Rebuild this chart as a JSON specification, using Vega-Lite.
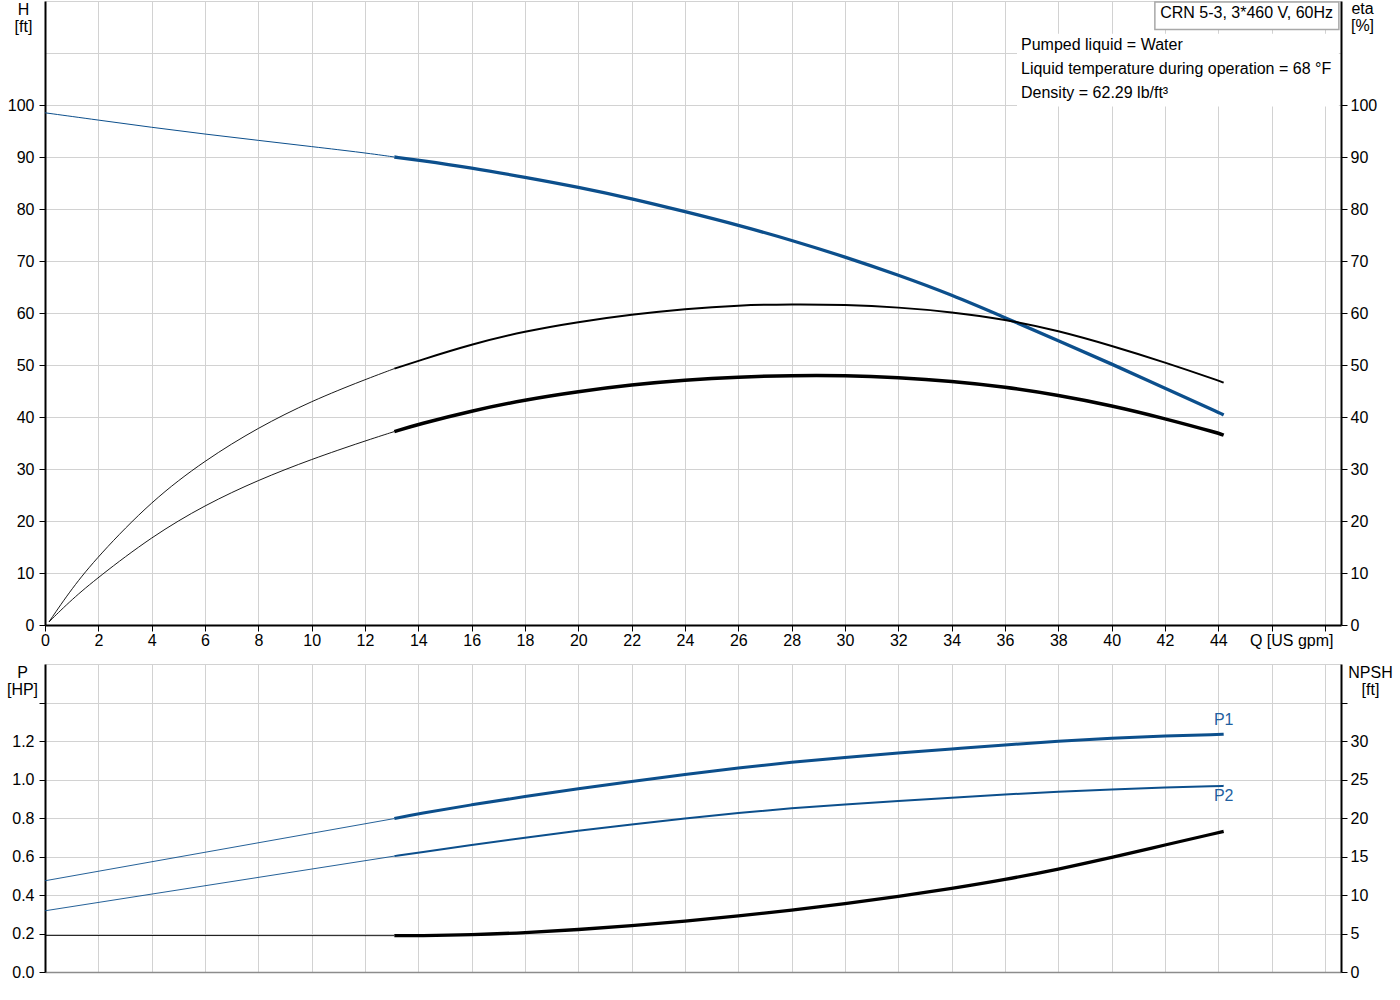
{
  "$schema": "https://vega.github.io/schema/vega-lite/v6.json",
  "padding": {"left": 6, "top": 0, "right": 0, "bottom": 0},
  "background": "white",
  "spacing": 16,
  "config": {
    "font": "Liberation Sans",
    "view": {"stroke": null},
    "axis": {
      "labelFont": "Liberation Sans", "labelFontSize": 16, "labelColor": "#000", "labelOverlap": false,
      "titleFont": "Liberation Sans", "titleFontSize": 16, "titleFontWeight": "normal", "titleColor": "#000",
      "gridColor": "#d2d2d2", "gridWidth": 1, "domainColor": "#000", "tickColor": "#000", "tickCount": 40
    }
  },
  "datasets": {
    "top": [
      {"curve": "H", "seg": "thin", "q": 0, "v": 98.5},
      {"curve": "H", "seg": "thin", "q": 2, "v": 97.1},
      {"curve": "H", "seg": "thin", "q": 4, "v": 95.7},
      {"curve": "H", "seg": "thin", "q": 6, "v": 94.4},
      {"curve": "H", "seg": "thin", "q": 8, "v": 93.2},
      {"curve": "H", "seg": "thin", "q": 10, "v": 92.0},
      {"curve": "H", "seg": "thin", "q": 12, "v": 90.8},
      {"curve": "H", "seg": "thin", "q": 13.1, "v": 90.0},
      {"curve": "H", "seg": "duty", "q": 13.1, "v": 90.0},
      {"curve": "H", "seg": "duty", "q": 14, "v": 89.4},
      {"curve": "H", "seg": "duty", "q": 16, "v": 87.9},
      {"curve": "H", "seg": "duty", "q": 18, "v": 86.1},
      {"curve": "H", "seg": "duty", "q": 20, "v": 84.2},
      {"curve": "H", "seg": "duty", "q": 22, "v": 82.0},
      {"curve": "H", "seg": "duty", "q": 24, "v": 79.5},
      {"curve": "H", "seg": "duty", "q": 26, "v": 76.9},
      {"curve": "H", "seg": "duty", "q": 28, "v": 74.0},
      {"curve": "H", "seg": "duty", "q": 30, "v": 70.8},
      {"curve": "H", "seg": "duty", "q": 32, "v": 67.3},
      {"curve": "H", "seg": "duty", "q": 34, "v": 63.5},
      {"curve": "H", "seg": "duty", "q": 36, "v": 59.1},
      {"curve": "H", "seg": "duty", "q": 38, "v": 54.7},
      {"curve": "H", "seg": "duty", "q": 40, "v": 50.2},
      {"curve": "H", "seg": "duty", "q": 42, "v": 45.5},
      {"curve": "H", "seg": "duty", "q": 44, "v": 40.9},
      {"curve": "H", "seg": "duty", "q": 44.2, "v": 40.4},
      {"curve": "eta1", "seg": "thin", "q": 0.15, "v": 0.6},
      {"curve": "eta1", "seg": "thin", "q": 1, "v": 7.0},
      {"curve": "eta1", "seg": "thin", "q": 2, "v": 13.3},
      {"curve": "eta1", "seg": "thin", "q": 4, "v": 23.9},
      {"curve": "eta1", "seg": "thin", "q": 6, "v": 31.7},
      {"curve": "eta1", "seg": "thin", "q": 8, "v": 38.0},
      {"curve": "eta1", "seg": "thin", "q": 10, "v": 43.1},
      {"curve": "eta1", "seg": "thin", "q": 12, "v": 47.2},
      {"curve": "eta1", "seg": "thin", "q": 13.1, "v": 49.3},
      {"curve": "eta1", "seg": "duty", "q": 13.1, "v": 49.3},
      {"curve": "eta1", "seg": "duty", "q": 14, "v": 50.8},
      {"curve": "eta1", "seg": "duty", "q": 16, "v": 54.0},
      {"curve": "eta1", "seg": "duty", "q": 18, "v": 56.5},
      {"curve": "eta1", "seg": "duty", "q": 20, "v": 58.3},
      {"curve": "eta1", "seg": "duty", "q": 22, "v": 59.7},
      {"curve": "eta1", "seg": "duty", "q": 24, "v": 60.8},
      {"curve": "eta1", "seg": "duty", "q": 26, "v": 61.5},
      {"curve": "eta1", "seg": "duty", "q": 28, "v": 61.7},
      {"curve": "eta1", "seg": "duty", "q": 30, "v": 61.6},
      {"curve": "eta1", "seg": "duty", "q": 32, "v": 61.1},
      {"curve": "eta1", "seg": "duty", "q": 34, "v": 60.2},
      {"curve": "eta1", "seg": "duty", "q": 36, "v": 58.8},
      {"curve": "eta1", "seg": "duty", "q": 38, "v": 56.6},
      {"curve": "eta1", "seg": "duty", "q": 40, "v": 53.7},
      {"curve": "eta1", "seg": "duty", "q": 42, "v": 50.5},
      {"curve": "eta1", "seg": "duty", "q": 44, "v": 47.0},
      {"curve": "eta1", "seg": "duty", "q": 44.2, "v": 46.6},
      {"curve": "eta2", "seg": "thin", "q": 0.15, "v": 0.6},
      {"curve": "eta2", "seg": "thin", "q": 1, "v": 4.9},
      {"curve": "eta2", "seg": "thin", "q": 2, "v": 9.2},
      {"curve": "eta2", "seg": "thin", "q": 4, "v": 17.0},
      {"curve": "eta2", "seg": "thin", "q": 6, "v": 23.1},
      {"curve": "eta2", "seg": "thin", "q": 8, "v": 27.9},
      {"curve": "eta2", "seg": "thin", "q": 10, "v": 31.9},
      {"curve": "eta2", "seg": "thin", "q": 12, "v": 35.4},
      {"curve": "eta2", "seg": "thin", "q": 13.1, "v": 37.2},
      {"curve": "eta2", "seg": "duty", "q": 13.1, "v": 37.2},
      {"curve": "eta2", "seg": "duty", "q": 14, "v": 38.6},
      {"curve": "eta2", "seg": "duty", "q": 16, "v": 41.2},
      {"curve": "eta2", "seg": "duty", "q": 18, "v": 43.3},
      {"curve": "eta2", "seg": "duty", "q": 20, "v": 44.9},
      {"curve": "eta2", "seg": "duty", "q": 22, "v": 46.2},
      {"curve": "eta2", "seg": "duty", "q": 24, "v": 47.1},
      {"curve": "eta2", "seg": "duty", "q": 26, "v": 47.7},
      {"curve": "eta2", "seg": "duty", "q": 28, "v": 48.0},
      {"curve": "eta2", "seg": "duty", "q": 30, "v": 48.0},
      {"curve": "eta2", "seg": "duty", "q": 32, "v": 47.6},
      {"curve": "eta2", "seg": "duty", "q": 34, "v": 46.9},
      {"curve": "eta2", "seg": "duty", "q": 36, "v": 45.8},
      {"curve": "eta2", "seg": "duty", "q": 38, "v": 44.2},
      {"curve": "eta2", "seg": "duty", "q": 40, "v": 42.2},
      {"curve": "eta2", "seg": "duty", "q": 42, "v": 39.7},
      {"curve": "eta2", "seg": "duty", "q": 44, "v": 36.9},
      {"curve": "eta2", "seg": "duty", "q": 44.2, "v": 36.5}
    ],
    "bottom": [
      {"curve": "P1", "seg": "thin", "q": 0, "v": 0.474},
      {"curve": "P1", "seg": "thin", "q": 13.1, "v": 0.797},
      {"curve": "P1", "seg": "duty", "q": 13.1, "v": 0.797},
      {"curve": "P1", "seg": "duty", "q": 14, "v": 0.822},
      {"curve": "P1", "seg": "duty", "q": 16, "v": 0.869},
      {"curve": "P1", "seg": "duty", "q": 18, "v": 0.912},
      {"curve": "P1", "seg": "duty", "q": 20, "v": 0.952},
      {"curve": "P1", "seg": "duty", "q": 22, "v": 0.990},
      {"curve": "P1", "seg": "duty", "q": 24, "v": 1.026},
      {"curve": "P1", "seg": "duty", "q": 26, "v": 1.060},
      {"curve": "P1", "seg": "duty", "q": 28, "v": 1.090},
      {"curve": "P1", "seg": "duty", "q": 30, "v": 1.115},
      {"curve": "P1", "seg": "duty", "q": 32, "v": 1.138},
      {"curve": "P1", "seg": "duty", "q": 34, "v": 1.159},
      {"curve": "P1", "seg": "duty", "q": 36, "v": 1.180},
      {"curve": "P1", "seg": "duty", "q": 38, "v": 1.199},
      {"curve": "P1", "seg": "duty", "q": 40, "v": 1.215},
      {"curve": "P1", "seg": "duty", "q": 42, "v": 1.227},
      {"curve": "P1", "seg": "duty", "q": 44, "v": 1.234},
      {"curve": "P1", "seg": "duty", "q": 44.2, "v": 1.235},
      {"curve": "P2", "seg": "thin", "q": 0, "v": 0.318},
      {"curve": "P2", "seg": "thin", "q": 13.1, "v": 0.602},
      {"curve": "P2", "seg": "duty", "q": 13.1, "v": 0.602},
      {"curve": "P2", "seg": "duty", "q": 14, "v": 0.620},
      {"curve": "P2", "seg": "duty", "q": 16, "v": 0.660},
      {"curve": "P2", "seg": "duty", "q": 18, "v": 0.698},
      {"curve": "P2", "seg": "duty", "q": 20, "v": 0.734},
      {"curve": "P2", "seg": "duty", "q": 22, "v": 0.767},
      {"curve": "P2", "seg": "duty", "q": 24, "v": 0.798},
      {"curve": "P2", "seg": "duty", "q": 26, "v": 0.826},
      {"curve": "P2", "seg": "duty", "q": 28, "v": 0.851},
      {"curve": "P2", "seg": "duty", "q": 30, "v": 0.871},
      {"curve": "P2", "seg": "duty", "q": 32, "v": 0.889},
      {"curve": "P2", "seg": "duty", "q": 34, "v": 0.906},
      {"curve": "P2", "seg": "duty", "q": 36, "v": 0.922},
      {"curve": "P2", "seg": "duty", "q": 38, "v": 0.937},
      {"curve": "P2", "seg": "duty", "q": 40, "v": 0.949},
      {"curve": "P2", "seg": "duty", "q": 42, "v": 0.959},
      {"curve": "P2", "seg": "duty", "q": 44, "v": 0.966},
      {"curve": "P2", "seg": "duty", "q": 44.2, "v": 0.967},
      {"curve": "NPSH", "seg": "thin", "q": 0, "v": 4.75},
      {"curve": "NPSH", "seg": "thin", "q": 13.1, "v": 4.72},
      {"curve": "NPSH", "seg": "duty", "q": 13.1, "v": 4.72},
      {"curve": "NPSH", "seg": "duty", "q": 14, "v": 4.72},
      {"curve": "NPSH", "seg": "duty", "q": 16, "v": 4.82},
      {"curve": "NPSH", "seg": "duty", "q": 18, "v": 5.1},
      {"curve": "NPSH", "seg": "duty", "q": 20, "v": 5.5},
      {"curve": "NPSH", "seg": "duty", "q": 22, "v": 6.0},
      {"curve": "NPSH", "seg": "duty", "q": 24, "v": 6.6},
      {"curve": "NPSH", "seg": "duty", "q": 26, "v": 7.27},
      {"curve": "NPSH", "seg": "duty", "q": 28, "v": 8.02},
      {"curve": "NPSH", "seg": "duty", "q": 30, "v": 8.85},
      {"curve": "NPSH", "seg": "duty", "q": 32, "v": 9.8},
      {"curve": "NPSH", "seg": "duty", "q": 34, "v": 10.85},
      {"curve": "NPSH", "seg": "duty", "q": 36, "v": 12.0},
      {"curve": "NPSH", "seg": "duty", "q": 38, "v": 13.35},
      {"curve": "NPSH", "seg": "duty", "q": 40, "v": 14.85},
      {"curve": "NPSH", "seg": "duty", "q": 42, "v": 16.5},
      {"curve": "NPSH", "seg": "duty", "q": 44, "v": 18.1},
      {"curve": "NPSH", "seg": "duty", "q": 44.2, "v": 18.25}
    ],
    "labels": [
      {"name": "P1", "q": 44.2, "v": 1.235},
      {"name": "P2", "q": 44.2, "v": 0.967}
    ]
  },
  "vconcat": [
    {
      "width": 1296,
      "height": 624,
      "layer": [
        {
          "layer": [
            {
              "data": {"name": "top"},
              "transform": [{"filter": "datum.curve == 'H'"}],
              "mark": {"type": "line", "interpolate": "basis", "color": "#0c4f8c"},
              "encoding": {
                "x": {
                  "field": "q", "type": "quantitative",
                  "scale": {"domain": [0, 48.6], "nice": false, "zero": false},
                  "axis": {
                    "values": [0, 2, 4, 6, 8, 10, 12, 14, 16, 18, 20, 22, 24, 26, 28, 30, 32, 34, 36, 38, 40, 42, 44, 46, 48],
                    "tickCount": 40,
                    "grid": true, "domainWidth": 2, "tickSize": 6, "tickWidth": 1, "labelPadding": 1,
                    "labelFlush": false, "labelOverlap": false,
                    "labelExpr": "datum.value > 44 ? '' : datum.label",
                    "title": "Q [US gpm]", "titleX": 1288, "titleY": 20, "titleAlign": "right",
                    "titleBaseline": "alphabetic", "titleAnchor": "end"
                  }
                },
                "y": {
                  "field": "v", "type": "quantitative",
                  "scale": {"domain": [0, 120], "nice": false, "zero": false},
                  "axis": {
                    "values": [0, 10, 20, 30, 40, 50, 60, 70, 80, 90, 100, 110, 120],
                    "tickCount": 40,
                    "grid": true, "domainWidth": 2, "tickSize": 6, "labelPadding": 5, "labelOverlap": false,
                    "tickOpacity": {"condition": {"test": "datum.value > 100", "value": 0}, "value": 1},
                    "labelFontSize": {"condition": {"test": "datum.value > 100", "value": 0}, "value": 16},
                    "labelExpr": "datum.value > 100 ? '' : datum.label",
                    "title": ["H", "[ft]"], "titleAngle": 0, "titleX": -22, "titleY": 13,
                    "titleAlign": "center", "titleBaseline": "alphabetic", "titleLineHeight": 17
                  }
                },
                "detail": {"field": "seg"},
                "strokeWidth": {"condition": {"test": "datum.seg == 'thin'", "value": 1}, "value": 3.3}
              }
            },
            {
              "data": {"values": [{}]},
              "mark": {"type": "rect", "fill": "white", "stroke": null},
              "encoding": {
                "x": {"datum": 36.45, "type": "quantitative"},
                "x2": {"datum": 48.52},
                "y": {"datum": 99.7, "type": "quantitative"},
                "y2": {"datum": 113.7}
              }
            },
            {
              "data": {"values": [{}]},
              "mark": {"type": "rect", "fill": "white", "stroke": "#a8a8a8", "strokeWidth": 1.5},
              "encoding": {
                "x": {"datum": 41.62, "type": "quantitative"},
                "x2": {"datum": 48.52},
                "y": {"datum": 114.5, "type": "quantitative"},
                "y2": {"datum": 119.8}
              }
            },
            {
              "data": {"values": [{}]},
              "mark": {"type": "text", "align": "left", "baseline": "alphabetic", "fontSize": 16, "font": "Liberation Sans", "color": "#000"},
              "encoding": {
                "x": {"datum": 41.82, "type": "quantitative"},
                "y": {"datum": 116.7, "type": "quantitative"},
                "text": {"value": "CRN 5-3, 3*460 V, 60Hz"}
              }
            },
            {
              "data": {"values": [{}]},
              "mark": {"type": "text", "align": "left", "baseline": "alphabetic", "fontSize": 16, "font": "Liberation Sans", "color": "#000", "lineHeight": 24},
              "encoding": {
                "x": {"datum": 36.6, "type": "quantitative"},
                "y": {"datum": 110.6, "type": "quantitative"},
                "text": {"value": ["Pumped liquid = Water", "Liquid temperature during operation = 68 °F", "Density = 62.29 lb/ft³"]}
              }
            }
          ]
        },
        {
          "data": {"name": "top"},
          "layer": [
            {
              "transform": [{"filter": "datum.curve == 'eta1'"}],
              "mark": {"type": "line", "interpolate": "basis", "color": "#000"},
              "encoding": {
                "x": {"field": "q", "type": "quantitative"},
                "y": {
                  "field": "v", "type": "quantitative",
                  "scale": {"domain": [0, 120], "nice": false, "zero": false},
                  "axis": {
                    "orient": "right",
                    "values": [0, 10, 20, 30, 40, 50, 60, 70, 80, 90, 100],
                    "tickCount": 40,
                    "grid": false, "domainWidth": 2, "tickSize": 6, "labelPadding": 3, "labelOverlap": false,
                    "title": ["eta", "[%]"], "titleAngle": 0, "titleX": 21, "titleY": 12,
                    "titleAlign": "center", "titleBaseline": "alphabetic", "titleLineHeight": 17
                  }
                },
                "detail": {"field": "seg"},
                "strokeWidth": {"condition": {"test": "datum.seg == 'thin'", "value": 0.9}, "value": 2}
              }
            },
            {
              "transform": [{"filter": "datum.curve == 'eta2'"}],
              "mark": {"type": "line", "interpolate": "basis", "color": "#000"},
              "encoding": {
                "x": {"field": "q", "type": "quantitative"},
                "y": {"field": "v", "type": "quantitative"},
                "detail": {"field": "seg"},
                "strokeWidth": {"condition": {"test": "datum.seg == 'thin'", "value": 0.9}, "value": 3.5}
              }
            }
          ]
        }
      ],
      "resolve": {"scale": {"y": "independent"}}
    },
    {
      "width": 1296,
      "height": 308,
      "layer": [
        {
          "layer": [
            {
              "data": {"name": "bottom"},
              "transform": [{"filter": "datum.curve == 'P1'"}],
              "mark": {"type": "line", "interpolate": "basis", "color": "#0c4f8c"},
              "encoding": {
                "x": {
                  "field": "q", "type": "quantitative",
                  "scale": {"domain": [0, 48.6], "nice": false, "zero": false},
                  "axis": {
                    "values": [0, 2, 4, 6, 8, 10, 12, 14, 16, 18, 20, 22, 24, 26, 28, 30, 32, 34, 36, 38, 40, 42, 44, 46, 48],
                    "tickCount": 40,
                    "grid": true, "ticks": false, "labels": false, "domainColor": "#8c8c8c", "domainWidth": 1.5, "title": null
                  }
                },
                "y": {
                  "field": "v", "type": "quantitative",
                  "scale": {"domain": [0, 1.6], "nice": false, "zero": false},
                  "axis": {
                    "values": [0, 0.2, 0.4, 0.6, 0.8, 1.0, 1.2, 1.4, 1.6],
                    "tickCount": 40,
                    "grid": true, "domainWidth": 2, "tickSize": 6, "labelPadding": 5, "labelOverlap": false,
                    "tickOpacity": {"condition": {"test": "datum.value > 1.5", "value": 0}, "value": 1},
                    "labelFontSize": {"condition": {"test": "datum.value > 1.3", "value": 0}, "value": 16},
                    "labelExpr": "datum.value > 1.3 ? '' : format(datum.value, '.1f')",
                    "title": ["P", "[HP]"], "titleAngle": 0, "titleX": -23, "titleY": 13,
                    "titleAlign": "center", "titleBaseline": "alphabetic", "titleLineHeight": 17
                  }
                },
                "detail": {"field": "seg"},
                "strokeWidth": {"condition": {"test": "datum.seg == 'thin'", "value": 0.9}, "value": 3}
              }
            },
            {
              "data": {"name": "bottom"},
              "transform": [{"filter": "datum.curve == 'P2'"}],
              "mark": {"type": "line", "interpolate": "basis", "color": "#0c4f8c"},
              "encoding": {
                "x": {"field": "q", "type": "quantitative"},
                "y": {"field": "v", "type": "quantitative"},
                "detail": {"field": "seg"},
                "strokeWidth": {"condition": {"test": "datum.seg == 'thin'", "value": 0.9}, "value": 2}
              }
            },
            {
              "data": {"name": "labels"},
              "transform": [{"filter": "datum.name == 'P1'"}],
              "mark": {"type": "text", "align": "center", "baseline": "alphabetic", "dy": -9, "fontSize": 16, "font": "Liberation Sans", "color": "#1f5fa0"},
              "encoding": {
                "x": {"field": "q", "type": "quantitative"},
                "y": {"field": "v", "type": "quantitative"},
                "text": {"field": "name"}
              }
            },
            {
              "data": {"name": "labels"},
              "transform": [{"filter": "datum.name == 'P2'"}],
              "mark": {"type": "text", "align": "center", "baseline": "alphabetic", "dy": 15, "fontSize": 16, "font": "Liberation Sans", "color": "#1f5fa0"},
              "encoding": {
                "x": {"field": "q", "type": "quantitative"},
                "y": {"field": "v", "type": "quantitative"},
                "text": {"field": "name"}
              }
            }
          ]
        },
        {
          "data": {"name": "bottom"},
          "transform": [{"filter": "datum.curve == 'NPSH'"}],
          "mark": {"type": "line", "interpolate": "basis", "color": "#000"},
          "encoding": {
            "x": {"field": "q", "type": "quantitative"},
            "y": {
              "field": "v", "type": "quantitative",
              "scale": {"domain": [0, 40], "nice": false, "zero": false},
              "axis": {
                "orient": "right",
                "values": [0, 5, 10, 15, 20, 25, 30, 35],
                "tickCount": 40,
                "grid": false, "domainWidth": 2, "tickSize": 6, "labelPadding": 3, "labelOverlap": false,
                "labelFontSize": {"condition": {"test": "datum.value > 30", "value": 0}, "value": 16},
                "labelExpr": "datum.value > 30 ? '' : datum.label",
                "title": ["NPSH", "[ft]"], "titleAngle": 0, "titleX": 29, "titleY": 13,
                "titleAlign": "center", "titleBaseline": "alphabetic", "titleLineHeight": 17
              }
            },
            "detail": {"field": "seg"},
            "strokeWidth": {"condition": {"test": "datum.seg == 'thin'", "value": 0.9}, "value": 3.3}
          }
        }
      ],
      "resolve": {"scale": {"y": "independent"}}
    }
  ]
}
